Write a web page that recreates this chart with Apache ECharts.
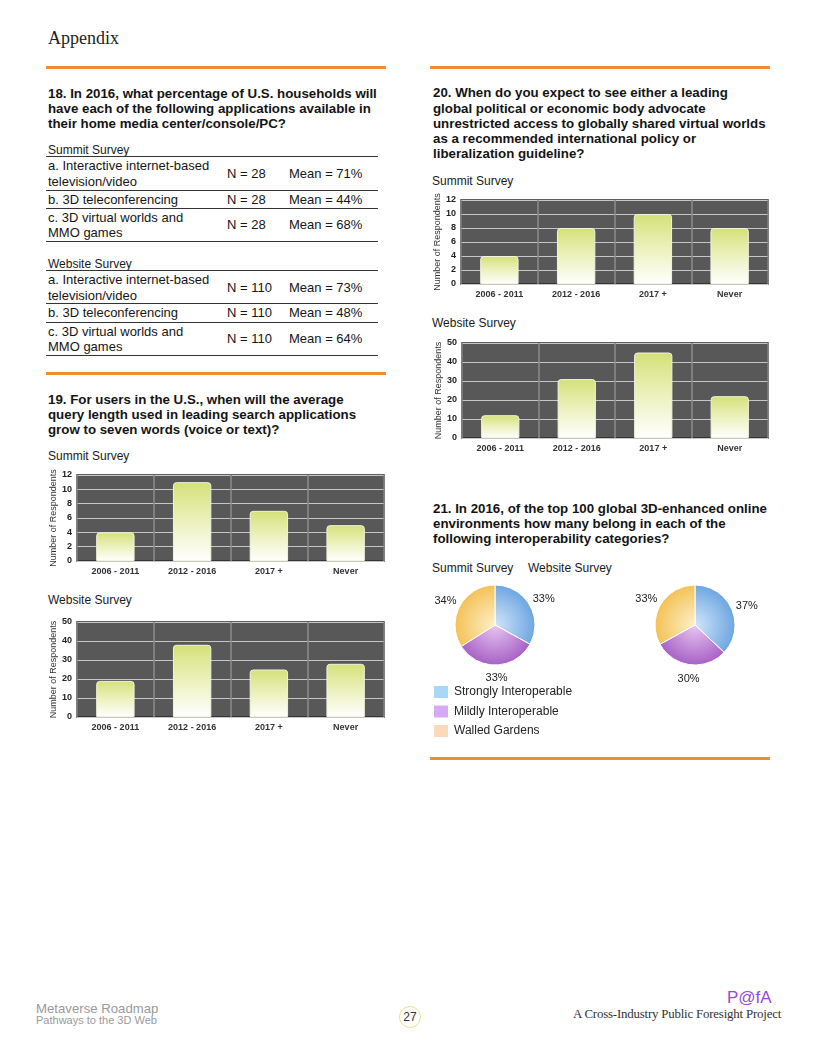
<!DOCTYPE html>
<html><head><meta charset="utf-8">
<script src="https://cdn.jsdelivr.net/npm/echarts@6/dist/echarts.min.js"></script>
<style>
body{margin:0;background:#fff;}
#page{position:relative;width:816px;height:1056px;overflow:hidden;font-family:"Liberation Sans",Arial,sans-serif;color:#111;}
.t{position:absolute;white-space:nowrap;}
.q{position:absolute;font-weight:bold;font-size:13.3px;white-space:nowrap;color:#141414;}
.rule{position:absolute;height:3px;background:#f08c2e;}
.sv{position:absolute;font-size:12px;line-height:14px;color:#1a1a1a;white-space:nowrap;}
.row{position:absolute;left:46px;width:332px;border-bottom:1px solid #333;display:flex;align-items:center;font-size:13px;line-height:15.5px;color:#151515;}
.c1{width:179px;padding-left:2px;}
.c2{width:62px;}
.c3{flex:1;}
#chart{position:absolute;left:0;top:0;width:816px;height:1056px;}
</style></head>
<body><div id="page">
<div class="t" style="left:48px;top:26px;font-family:'Liberation Serif',serif;font-size:18px;line-height:24px;color:#222;">Appendix</div>
<div class="rule" style="left:46px;top:66px;width:340px;"></div>
<div class="rule" style="left:430px;top:66px;width:340px;"></div>
<div class="rule" style="left:46px;top:372px;width:340px;"></div>
<div class="rule" style="left:430px;top:757px;width:340px;"></div>

<div class="q" style="left:48px;top:85.5px;line-height:15px;">18. In 2016, what percentage of U.S. households will<br>have each of the following applications available in<br>their home media center/console/PC?</div>
<div id="tbl"></div>

<div class="q" style="left:48px;top:391.5px;line-height:15px;">19. For users in the U.S., when will the average<br>query length used in leading search applications<br>grow to seven words (voice or text)?</div>
<div class="sv" style="left:48px;top:449px;">Summit Survey</div>
<div class="sv" style="left:48px;top:593px;">Website Survey</div>

<div class="q" style="left:433px;top:85.4px;line-height:15.25px;">20. When do you expect to see either a leading<br>global political or economic body advocate<br>unrestricted access to globally shared virtual worlds<br>as a recommended international policy or<br>liberalization guideline?</div>
<div class="sv" style="left:432px;top:174px;">Summit Survey</div>
<div class="sv" style="left:432px;top:316px;">Website Survey</div>

<div class="q" style="left:433px;top:500.5px;line-height:15px;">21. In 2016, of the top 100 global 3D-enhanced online<br>environments how many belong in each of the<br>following interoperability categories?</div>
<div class="sv" style="left:432px;top:561px;">Summit Survey</div>
<div class="sv" style="left:528px;top:561px;">Website Survey</div>

<div class="t" style="left:36px;top:1001px;font-size:13.2px;line-height:16px;color:#9a9a9a;">Metaverse Roadmap</div>
<div class="t" style="left:36px;top:1014px;font-size:11px;line-height:13px;color:#9a9a9a;">Pathways to the 3D Web</div>
<div class="t" style="left:399px;top:1006px;width:20px;height:20px;border:1.5px solid #ece18a;border-radius:50%;text-align:center;font-size:12px;line-height:20px;color:#333;">27</div>
<div class="t" style="left:727px;top:988px;font-size:17px;line-height:20px;color:#9a48d6;">P@fA</div>
<div class="t" style="left:573px;top:1006px;font-family:'Liberation Serif',serif;font-size:12.9px;line-height:16px;color:#333;letter-spacing:-0.2px;">A Cross-Industry Public Foresight Project</div>

<div id="chart"></div>
</div>
<script>
// ---- data ----
const tableItems = ['a. Interactive internet-based<br>television/video', 'b. 3D teleconferencing', 'c. 3D virtual worlds and<br>MMO games'];
const summitN = [28, 28, 28];
const summitMean = [71, 44, 68];
const websiteN = [110, 110, 110];
const websiteMean = [73, 48, 64];

const categories = ['2006 - 2011', '2012 - 2016', '2017 +', 'Never'];
const q19Summit = [4, 11, 7, 5];
const q19Website = [19, 38, 25, 28];
const q20Summit = [4, 8, 10, 8];
const q20Website = [12, 31, 45, 22];

const pieCategories = ['Strongly Interoperable', 'Mildly Interoperable', 'Walled Gardens'];
const q21Summit = [33, 33, 34];
const q21Website = [37, 30, 33];

// ---- table (layout) ----
const blocks = [
  {label:'Summit Survey', labelTop:143, lineTop:156, rows:[[157,33],[191,17],[209,32]], N:summitN, M:summitMean},
  {label:'Website Survey', labelTop:257, lineTop:270, rows:[[272,31],[304,18],[323,32]], N:websiteN, M:websiteMean}
];
let html = '';
blocks.forEach(b => {
  html += `<div class="sv" style="left:48px;top:${b.labelTop}px;">${b.label}</div>`;
  html += `<div style="position:absolute;left:46px;width:332px;top:${b.lineTop}px;height:1px;background:#333;"></div>`;
  b.rows.forEach((r, i) => {
    html += `<div class="row" style="top:${r[0]}px;height:${r[1]}px;"><div class="c1">${tableItems[i]}</div><div class="c2">N = ${b.N[i]}</div><div class="c3">Mean = ${b.M[i]}%</div></div>`;
  });
});
document.getElementById('tbl').innerHTML = html;

// ---- charts ----
const chart = echarts.init(document.getElementById('chart'), null, {renderer:'canvas'});
const grids = [], xAxes = [], yAxes = [], series = [];
const barGrad = new echarts.graphic.LinearGradient(0, 0, 0, 1, [
  {offset:0, color:'#d4e178'}, {offset:0.55, color:'#eef3c4'}, {offset:1, color:'#ffffff'}]);
function addBar(grid, data, max, interval) {
  const idx = grids.length;
  grids.push(Object.assign({show:true, backgroundColor:'#585858', borderColor:'#2a2a2a', borderWidth:1.5}, grid));
  xAxes.push({type:'category', gridIndex:idx, data:categories,
    axisLine:{show:false}, axisTick:{show:false},
    axisLabel:{fontSize:9, fontWeight:'bold', color:'#333', margin:6, interval:0, fontFamily:'Liberation Sans'},
    splitLine:{show:true, interval:0, lineStyle:{color:'#8c8c8c', width:1.5}}});
  yAxes.push({type:'value', gridIndex:idx, min:0, max:max, interval:interval,
    axisLine:{show:false}, axisTick:{show:false},
    axisLabel:{fontSize:9, fontWeight:'bold', color:'#222', margin:5, fontFamily:'Liberation Sans'},
    splitLine:{lineStyle:{color:'#c6c6c6', width:1}},
    name:'Number of Respondents', nameLocation:'middle', nameRotate:90, nameGap:18,
    nameTextStyle:{fontSize:9, color:'#333', fontFamily:'Liberation Sans'}});
  series.push({type:'bar', xAxisIndex:idx, yAxisIndex:idx, data:data, barWidth:'50%',
    itemStyle:{color:barGrad, borderColor:'#f2f4de', borderWidth:1, borderRadius:[3,3,0,0]}});
}
addBar({left:77, top:475, width:307, height:86}, q19Summit, 12, 2);
addBar({left:77, top:622, width:307, height:95}, q19Website, 50, 10);
addBar({left:461, top:200, width:307, height:84}, q20Summit, 12, 2);
addBar({left:462, top:343, width:306, height:95}, q20Website, 50, 10);

const pieStops = [
  [{offset:0, color:'#d2e6f9'}, {offset:1, color:'#6ea6e2'}],
  [{offset:0, color:'#e8c6f2'}, {offset:1, color:'#a862c6'}],
  [{offset:0, color:'#fdf0c8'}, {offset:1, color:'#f4c257'}]
];
const legendColors = ['#a9d7f7', '#d6aaf2', '#fdd9bb'];
function addPie(cx, cy, r, values) {
  const total = values.reduce((a, b) => a + b, 0);
  let acc = 0;
  const mids = values.map(v => { const m = (acc + v / 2) / total * 2 * Math.PI; acc += v; return m; });
  series.push({type:'pie', center:[cx, cy], radius:r, startAngle:90, clockwise:true,
    avoidLabelOverlap:false, silent:true,
    data: pieCategories.map((n, i) => ({name:n, value:values[i],
      itemStyle:{color:{type:'radial', x:cx, y:cy, r:r, global:true, colorStops:pieStops[i]}}})),
    label:{show:true, position:'outside', formatter:'{c}%', fontSize:11, color:'#222', fontFamily:'Liberation Sans'},
    labelLine:{show:false, length:5, length2:0},
    labelLayout: function (p) {
      const a = mids[p.dataIndex], s = Math.sin(a), c = Math.cos(a);
      const d = r + 4 + Math.abs(s) * 11 + Math.abs(c) * 6;
      return {x: cx + d * s, y: cy - d * c + 3, align:'center', verticalAlign:'middle'};
    },
    itemStyle:{borderColor:'#ffffff', borderWidth:1}});
}
addPie(495, 625, 40, q21Summit);
addPie(695, 625, 40, q21Website);

chart.setOption({
  animation:false,
  grid:grids, xAxis:xAxes, yAxis:yAxes, series:series,
  legend:{orient:'vertical', left:432, top:684, padding:0, icon:'rect', itemWidth:16, itemHeight:14, itemGap:3.5,
    selectedMode:false, textStyle:{fontSize:12, lineHeight:14, color:'#222', fontFamily:'Liberation Sans'},
    data: pieCategories.map((n, i) => ({name:n, itemStyle:{color:legendColors[i]}}))}
});
</script>
</body></html>
